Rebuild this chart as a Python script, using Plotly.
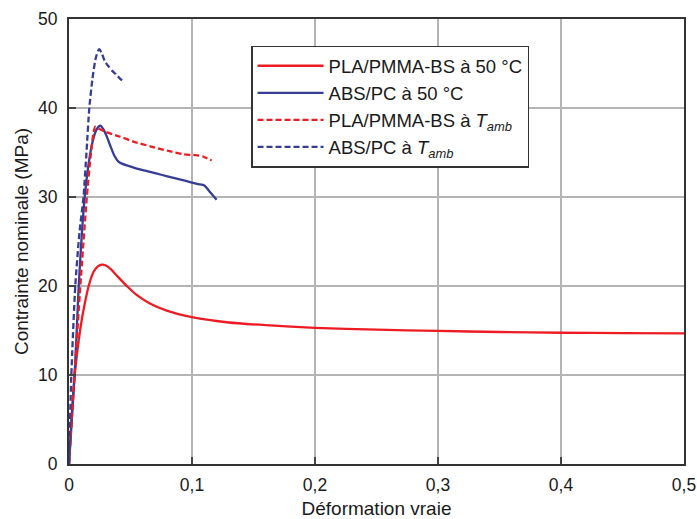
import plotly.graph_objects as go

# Courbes contrainte nominale / déformation vraie
pla_50_x = [0, 0.002, 0.0046, 0.009, 0.0125, 0.016, 0.020, 0.0235, 0.0268, 0.030, 0.034,
            0.040, 0.047, 0.055, 0.065, 0.080, 0.100, 0.130, 0.160, 0.200, 0.250, 0.300,
            0.350, 0.400, 0.450, 0.500]
pla_50_y = [0, 5, 10, 15, 17.8, 20, 21.6, 22.2, 22.4, 22.3, 21.9,
            21.0, 20.0, 19.0, 18.1, 17.2, 16.5, 15.9, 15.6, 15.3, 15.1, 14.95,
            14.83, 14.75, 14.7, 14.67]

abs_50_x = [0, 0.0046, 0.0079, 0.0105, 0.0128, 0.0155, 0.0185, 0.0215, 0.0240, 0.0258,
            0.0280, 0.0310, 0.0340, 0.0370, 0.0400, 0.0430, 0.0470, 0.0550, 0.0650,
            0.0750, 0.0850, 0.0950, 0.1050, 0.1100, 0.1150, 0.1200]
abs_50_y = [0, 10, 20, 26, 30, 33.3, 35.8, 37.3, 37.9, 38.0,
            37.6, 36.7, 35.6, 34.6, 34.0, 33.75, 33.55, 33.2, 32.85,
            32.5, 32.15, 31.8, 31.45, 31.3, 30.5, 29.7]

pla_amb_x = [0, 0.0045, 0.0092, 0.0145, 0.0175, 0.0200, 0.0215, 0.0240, 0.0300, 0.0410,
             0.0530, 0.0660, 0.0800, 0.0930, 0.1030, 0.1090, 0.1160]
pla_amb_y = [0, 10, 20, 30, 34.5, 37.3, 37.9, 37.7, 37.3, 36.8,
             36.2, 35.7, 35.2, 34.8, 34.7, 34.55, 34.1]

abs_amb_x = [0, 0.0019, 0.0051, 0.0085, 0.0118, 0.0142, 0.0165, 0.0190, 0.0214, 0.0235,
             0.0247, 0.0265, 0.0290, 0.0320, 0.0350, 0.0380, 0.0415, 0.0447]
abs_amb_y = [0, 10, 20, 26, 30, 35, 40, 43.2, 45.4, 46.4,
             46.6, 46.2, 45.3, 44.7, 44.2, 43.8, 43.3, 42.9]

x_ticks = [0, 0.1, 0.2, 0.3, 0.4, 0.5]
x_tick_labels = ["0", "0,1", "0,2", "0,3", "0,4", "0,5"]
y_ticks = [0, 10, 20, 30, 40, 50]
y_tick_labels = ["0", "10", "20", "30", "40", "50"]

RED = "#ec1c24"
BLUE = "#363d96"
FONT = "Liberation Sans, Arial, sans-serif"
TEXT = "#1a1a1a"

fig = go.Figure()
series = [
    (pla_50_x, pla_50_y, "PLA/PMMA-BS à 50 °C", RED, "solid"),
    (abs_50_x, abs_50_y, "ABS/PC à 50 °C", BLUE, "solid"),
    (pla_amb_x, pla_amb_y, "PLA/PMMA-BS à <i>T</i><sub><i>amb</i></sub>", RED, "6px,3px"),
    (abs_amb_x, abs_amb_y, "ABS/PC à <i>T</i><sub><i>amb</i></sub>", BLUE, "6px,3px"),
]
for i, (xs, ys, name, color, dash) in enumerate(series):
    fig.add_trace(go.Scatter(
        x=xs, y=ys, name=name, mode="lines", legendgroup=f"g{i}",
        line=dict(color=color, width=2.3, dash=dash, shape="spline", smoothing=0.6),
    ))

axis_common = dict(
    showline=True, linecolor="#333333", linewidth=2, mirror=True,
    showgrid=True, gridcolor="#b4b4b4", gridwidth=1.5,
    ticks="inside", ticklen=7, tickwidth=2, tickcolor="#444444",
    zeroline=False, automargin=False,
    tickfont=dict(size=17.5, color=TEXT, family=FONT),
)

fig.update_xaxes(range=[0, 0.5], tickvals=x_ticks, ticktext=x_tick_labels,
                 title=dict(text="Déformation vraie", font=dict(size=19, color=TEXT, family=FONT),
                            standoff=8),
                 ticklabelstandoff=4, **axis_common)
fig.update_yaxes(range=[0, 50], tickvals=y_ticks, ticktext=y_tick_labels,
                 title=dict(text="Contrainte nominale (MPa)", font=dict(size=19, color=TEXT, family=FONT),
                            standoff=4),
                 ticklabelstandoff=6, **axis_common)

fig.update_layout(
    width=697, height=519,
    margin=dict(l=69, r=13, t=19, b=55),
    paper_bgcolor="white", plot_bgcolor="white",
    font=dict(family=FONT, size=17, color=TEXT),
    showlegend=True,
    legend=dict(
        x=0.296, y=0.94, xanchor="left", yanchor="top",
        bgcolor="white", bordercolor="#333333", borderwidth=1.5,
        font=dict(size=18.5, family=FONT, color=TEXT),
        tracegroupgap=0, itemwidth=66,
    ),
)

fig.write_html("out.html")
